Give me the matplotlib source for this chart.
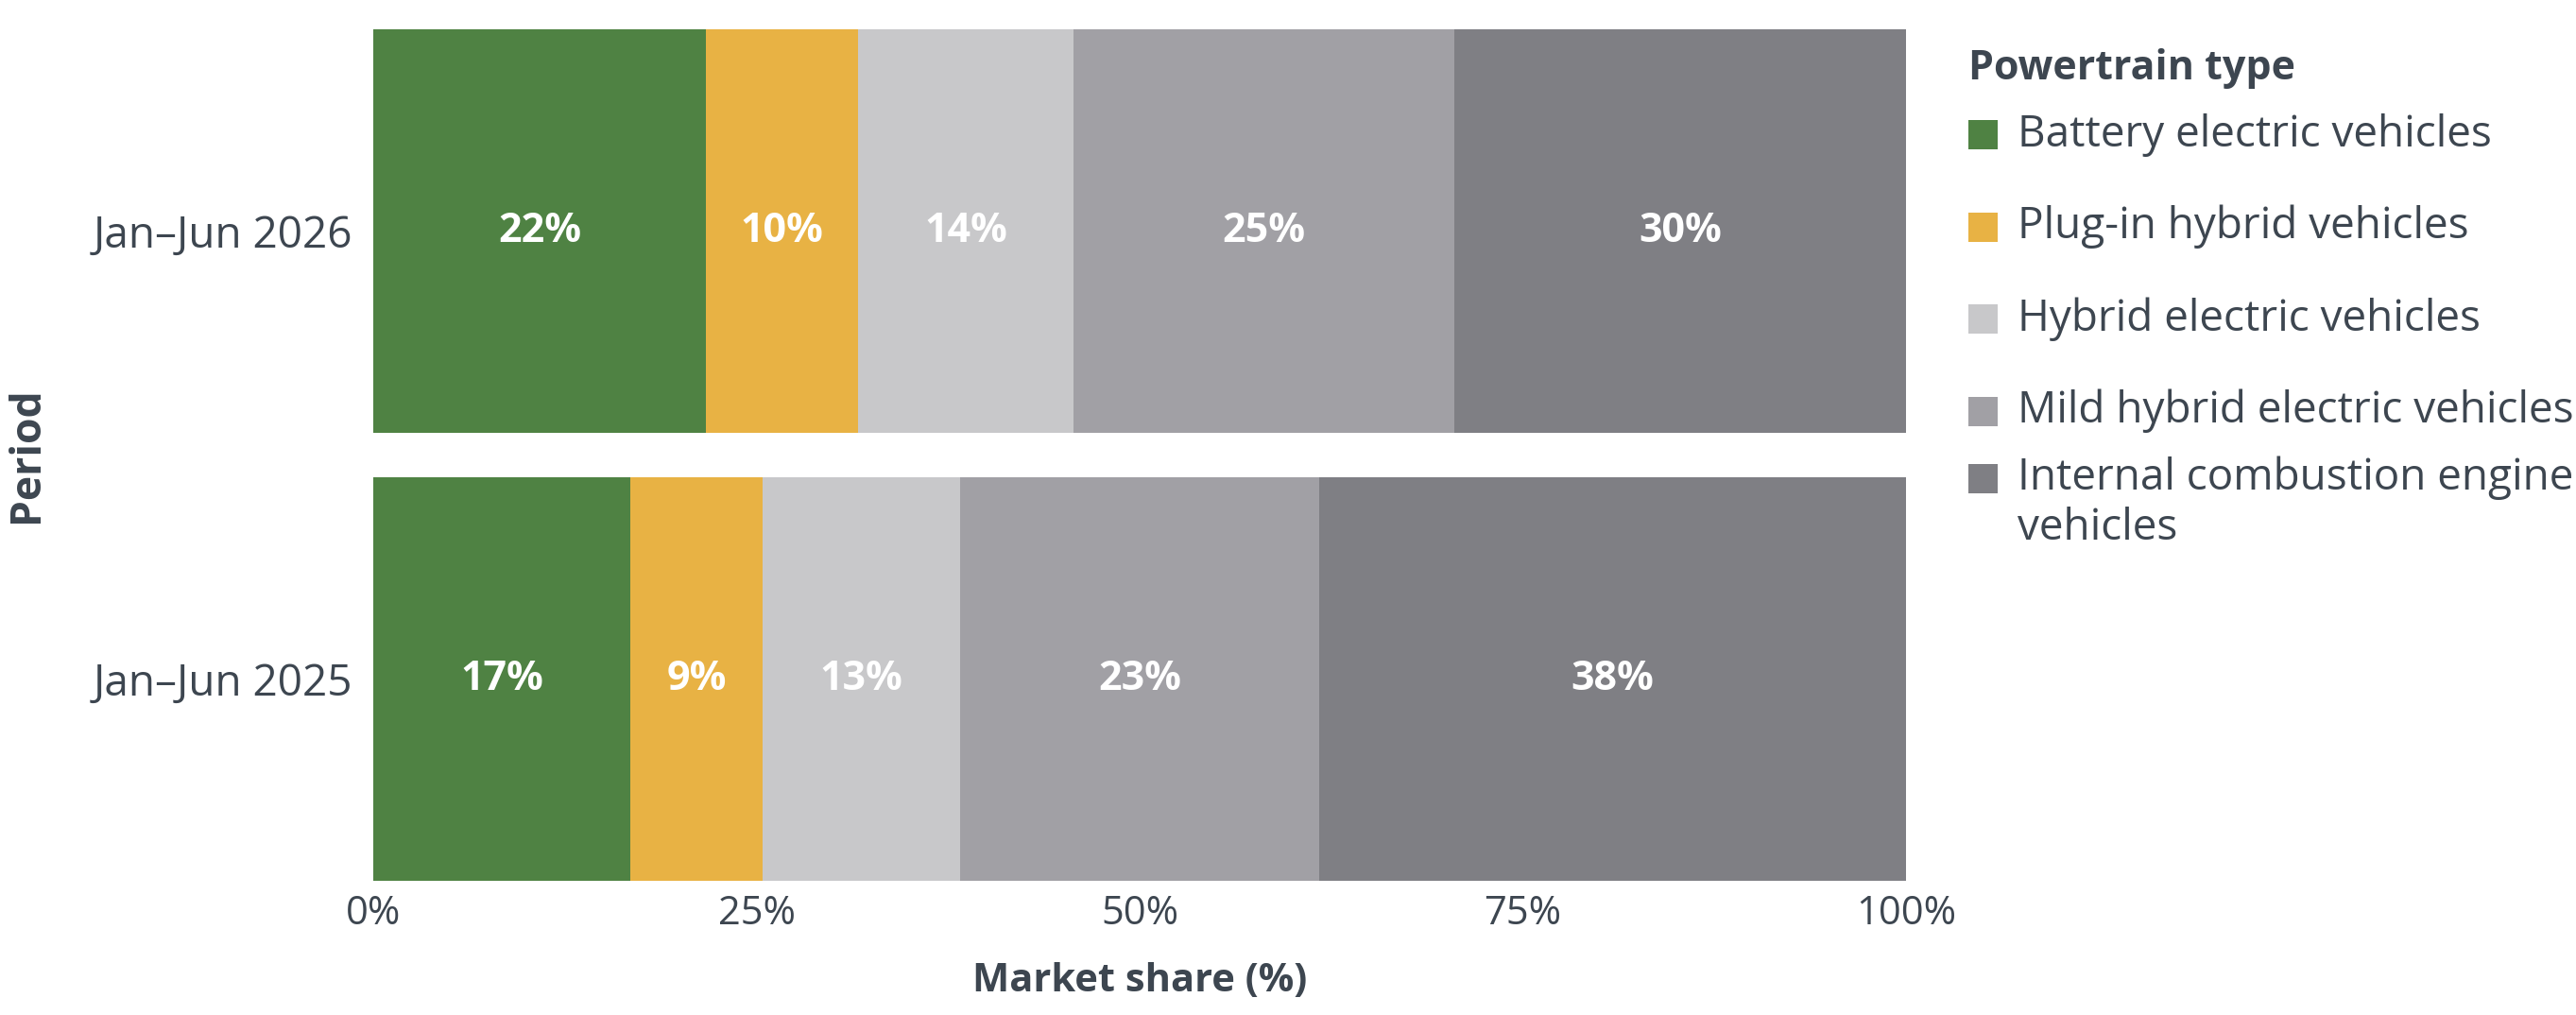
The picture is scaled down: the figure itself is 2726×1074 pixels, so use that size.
import numpy as np
import matplotlib.pyplot as plt
from matplotlib.patches import Rectangle

# market share by powertrain (shares in %)
periods = ["Jan\u2013Jun 2025", "Jan\u2013Jun 2026"]
powertrains = ["Battery electric vehicles", "Plug-in hybrid vehicles",
               "Hybrid electric vehicles", "Mild hybrid electric vehicles",
               "Internal combustion engine\nvehicles"]
share_2025 = [16.8, 8.6, 12.9, 23.4, 38.3]
share_2026 = [21.7, 9.9, 14.1, 24.8, 29.5]
x_ticks = [0, 25, 50, 75, 100]

colors = ["#4f8243", "#e8b244", "#c8c8ca", "#a1a0a5", "#7f7f84"]
TXT = "#3d4650"
W, H = 2726, 1074

plt.rcParams['font.family'] = ['Open Sans', 'DejaVu Sans']
plt.rcParams['text.color'] = TXT


def fxy(x, y):
    # pixel position from top-left -> figure fraction
    return x / W, 1 - y / H


fig = plt.figure(figsize=(W / 200, H / 200), dpi=200)
# axes box in pixels: x 395..2017, y 31..932
ax = fig.add_axes([395 / W, 1 - 932 / H, (2017 - 395) / W, (932 - 31) / H])

data = np.array([share_2025, share_2026])
y = np.arange(len(periods))
left = np.zeros(len(periods))
for i, name in enumerate(powertrains):
    vals = data[:, i]
    ax.barh(y, vals, left=left, height=0.9, color=colors[i], label=name)
    for yy, l, v in zip(y, left, vals):
        ax.text(l + v / 2, yy, f"{v:.0f}%", ha="center", va="center",
                color="white", fontsize=15.5, fontweight="bold")
    left += vals

ax.set_xlim(0, 100)
ax.set_ylim(-0.45, 1.45)
ax.set_yticks(y)
ax.set_yticklabels(periods)
ax.set_xticks(x_ticks)
ax.set_xticklabels([f"{t}%" for t in x_ticks])
ax.tick_params(axis="both", length=0, labelsize=15, colors=TXT)
ax.tick_params(axis="x", pad=5)
ax.tick_params(axis="y", pad=8, labelsize=16.5)
for s in ax.spines.values():
    s.set_visible(False)

ax.set_xlabel("Market share (%)", fontsize=15, fontweight="bold", color=TXT)
ax.set_ylabel("Period", fontsize=16, fontweight="bold", color=TXT)
ax.xaxis.set_label_coords(0.5, -0.118)
ax.xaxis.label.set_va("center")
ax.yaxis.set_label_coords(-0.226, 0.5)
ax.yaxis.label.set_va("center")

# legend by hand: handle sits on the first line of a wrapped label
fig.text(*fxy(2083, 73), "Powertrain type", ha="left", va="center",
         fontsize=15.5, fontweight="bold", color=TXT)
y0, step, line_h, box = 142.5, 97.5, 52, 31
for i, (name, c) in enumerate(zip(powertrains, colors)):
    yc = y0 + i * step
    nlines = name.count("\n") + 1
    hy = yc - (nlines - 1) * line_h / 2
    bx, by = fxy(2083, hy + box / 2)
    fig.patches.append(Rectangle((bx, by), box / W, box / H, facecolor=c,
                                 edgecolor="none", transform=fig.transFigure))
    fig.text(*fxy(2135, yc), name, ha="left", va="center", fontsize=16.5,
             color=TXT, linespacing=1.2)

fig.savefig("out.png", dpi=200)
